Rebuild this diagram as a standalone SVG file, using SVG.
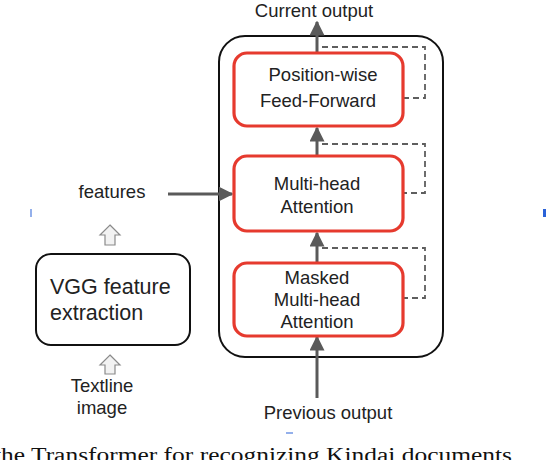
<svg xmlns="http://www.w3.org/2000/svg" width="546" height="460" viewBox="0 0 546 460">
<style>
.t{font-family:"Liberation Sans",Arial,sans-serif;fill:#222;text-anchor:middle;font-size:18.5px}
.red{fill:#fff;stroke:#e63a2e;stroke-width:3.2}
.dash{fill:none;stroke:#5e5e5e;stroke-width:1.8;stroke-dasharray:6,4}
.arr{stroke:#5a5a5a;stroke-width:3;fill:none}
.hol{fill:#f2f2f2;stroke:#8a8a8a;stroke-width:1.2}
</style>
<defs>
<marker id="ah" viewBox="0 0 10 10" refX="9" refY="5" markerWidth="5" markerHeight="5" markerUnits="strokeWidth" orient="auto">
<path d="M0,0 L10,5 L0,10 z" fill="#5a5a5a"/>
</marker>
</defs>
<rect width="546" height="460" fill="#fff"/>
<g id="decoder">
<rect x="219" y="36" width="224" height="321" rx="26" fill="#fff" stroke="#111" stroke-width="2"/>
</g>
<g id="connectors">
<line class="arr" x1="317" y1="53" x2="317" y2="22" marker-end="url(#ah)"/>
<line class="arr" x1="317" y1="156" x2="317" y2="128" marker-end="url(#ah)"/>
<line class="arr" x1="317" y1="263" x2="317" y2="233" marker-end="url(#ah)"/>
<line class="arr" x1="317" y1="398" x2="317" y2="337" marker-end="url(#ah)"/>
<line class="arr" x1="168" y1="194" x2="232" y2="194" marker-end="url(#ah)"/>
<path class="dash" d="M322,47 H425 V98 H404"/>
<path class="dash" d="M322,144 H425 V193 H404"/>
<path class="dash" d="M322,248 H425 V298 H404"/>
<path class="hol" d="M110,225 L120,235 L115,235 L115,245 L105,245 L105,235 L100,235 Z"/>
<path class="hol" d="M110,355 L120,365 L115,365 L115,374 L105,374 L105,365 L100,365 Z"/>
</g>
<g id="ff">
<rect class="red" x="234" y="53" width="169" height="73" rx="13"/>
<text class="t" x="323" y="81">Position-wise</text>
<text class="t" x="318" y="107">Feed-Forward</text>
</g>
<g id="mha">
<rect class="red" x="234" y="156" width="169" height="75" rx="13"/>
<text class="t" x="317" y="190">Multi-head</text>
<text class="t" x="317" y="213">Attention</text>
</g>
<g id="masked">
<rect class="red" x="234" y="263" width="169" height="73" rx="13"/>
<text class="t" x="317" y="284">Masked</text>
<text class="t" x="317" y="306">Multi-head</text>
<text class="t" x="317" y="328">Attention</text>
</g>
<g id="vgg">
<rect x="36" y="254" width="154" height="91" rx="15" fill="#fff" stroke="#111" stroke-width="2"/>
<text class="t" x="50" y="294" style="text-anchor:start;font-size:21.5px">VGG feature</text>
<text class="t" x="50" y="320" style="text-anchor:start;font-size:21.5px">extraction</text>
</g>
<g id="labels">
<text class="t" x="314" y="17">Current output</text>
<text class="t" x="112" y="198">features</text>
<text class="t" x="102" y="392">Textline</text>
<text class="t" x="102" y="414">image</text>
<text class="t" x="328" y="419">Previous output</text>
</g>
<g id="caption">
<text x="-6" y="462" font-family="Liberation Serif,Times New Roman,serif" font-size="20" fill="#111" textLength="518" lengthAdjust="spacingAndGlyphs">the Transformer for recognizing Kindai documents</text>
</g>
<g id="marks" fill="#2a62d8">
<rect x="30.5" y="209" width="1" height="8"/>
<rect x="543" y="209" width="3" height="8"/>
<rect x="286" y="432.5" width="7" height="1"/>
</g>
</svg>
